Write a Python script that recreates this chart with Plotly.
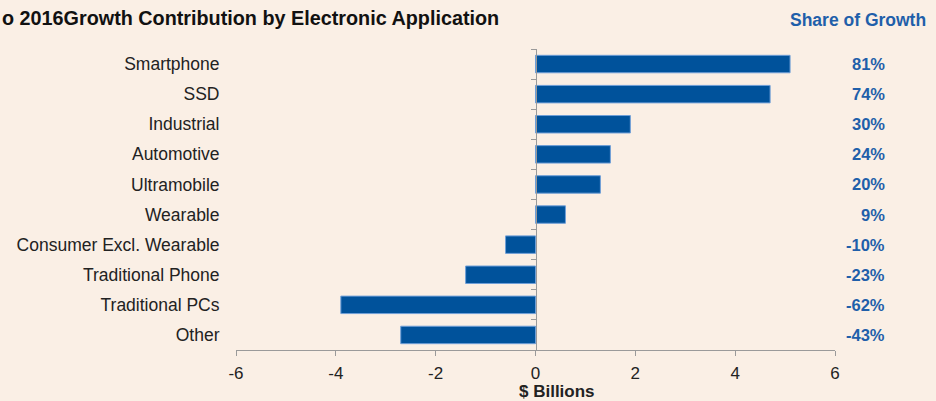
import plotly.graph_objects as go

categories = ["Smartphone", "SSD", "Industrial", "Automotive", "Ultramobile",
              "Wearable", "Consumer Excl. Wearable", "Traditional Phone",
              "Traditional PCs", "Other"]
growth_billions = [5.1, 4.7, 1.9, 1.5, 1.3, 0.6, -0.6, -1.4, -3.9, -2.7]
share_of_growth = ["81%", "74%", "30%", "24%", "20%", "9%", "-10%", "-23%", "-62%", "-43%"]
x_ticks = [-6, -4, -2, 0, 2, 4, 6]

BG = "#FAEFE5"
BAR = "#00529B"
BLUE_TXT = "#1F5FAA"
AX = "#9a9a9a"
FONT = "Liberation Sans, Arial, sans-serif"

fig = go.Figure()
fig.add_trace(go.Bar(
    x=growth_billions, y=categories, orientation="h",
    marker=dict(color=BAR, line=dict(color="#6f9fd8", width=1)),
    width=0.58, hoverinfo="x+y", showlegend=False,
))
# invisible trace for the zero-positioned category axis
fig.add_trace(go.Scatter(x=[0] * len(categories), y=categories, yaxis="y2",
                         mode="markers", marker=dict(opacity=0), showlegend=False,
                         hoverinfo="skip"))

for cat, s in zip(categories, share_of_growth):
    fig.add_annotation(x=1.087, xref="paper", y=cat, yref="y", text=f"<b>{s}</b>",
                       showarrow=False, xanchor="right", yanchor="middle",
                       font=dict(size=16.5, color=BLUE_TXT, family=FONT))

fig.add_annotation(x=1.155, xref="paper", y=1.097, yref="paper",
                   text="<b>Share of Growth</b>", showarrow=False,
                   xanchor="right", yanchor="middle",
                   font=dict(size=17.5, color=BLUE_TXT, family=FONT))

fig.add_annotation(x=-0.394, xref="paper", y=1.103, yref="paper",
                   text="<b>o 2016Growth Contribution by Electronic Application</b>",
                   showarrow=False, xanchor="left", yanchor="middle",
                   font=dict(size=19.8, color="#111111", family=FONT))

fig.add_annotation(x=0.536, xref="paper", y=-0.1395, yref="paper",
                   text="<b>$ Billions</b>", showarrow=False,
                   xanchor="center", yanchor="middle",
                   font=dict(size=17, color="#222222", family=FONT))

fig.update_layout(
    width=936, height=401,
    margin=dict(l=236, r=101, t=49, b=51),
    paper_bgcolor=BG, plot_bgcolor=BG,
    font=dict(family=FONT, size=17, color="#222222"),
    xaxis=dict(range=[-6, 6], tickvals=x_ticks, ticktext=[str(v) for v in x_ticks],
               automargin=False,
               showgrid=False, zeroline=False, showline=True, linecolor=AX, linewidth=1,
               ticks="outside", ticklen=5, tickcolor=AX, ticklabelstandoff=3,
               tickfont=dict(size=17, color="#222222")),
    yaxis=dict(categoryorder="array", categoryarray=categories, automargin=False,
               range=[9.5, -0.5], showgrid=False, zeroline=False, showline=False,
               ticks="outside", ticklen=12, tickcolor="rgba(0,0,0,0)",
               tickfont=dict(size=17.5, color="#222222")),
    yaxis2=dict(overlaying="y", anchor="free", position=0.5, side="left",
                categoryorder="array", categoryarray=categories, automargin=False,
                range=[9.5, -0.5], showgrid=False, zeroline=False,
                showline=True, linecolor=AX, linewidth=1,
                ticks="outside", ticklen=5, tickcolor=AX, tickson="boundaries",
                showticklabels=False),
)

fig.write_html("out.html")
